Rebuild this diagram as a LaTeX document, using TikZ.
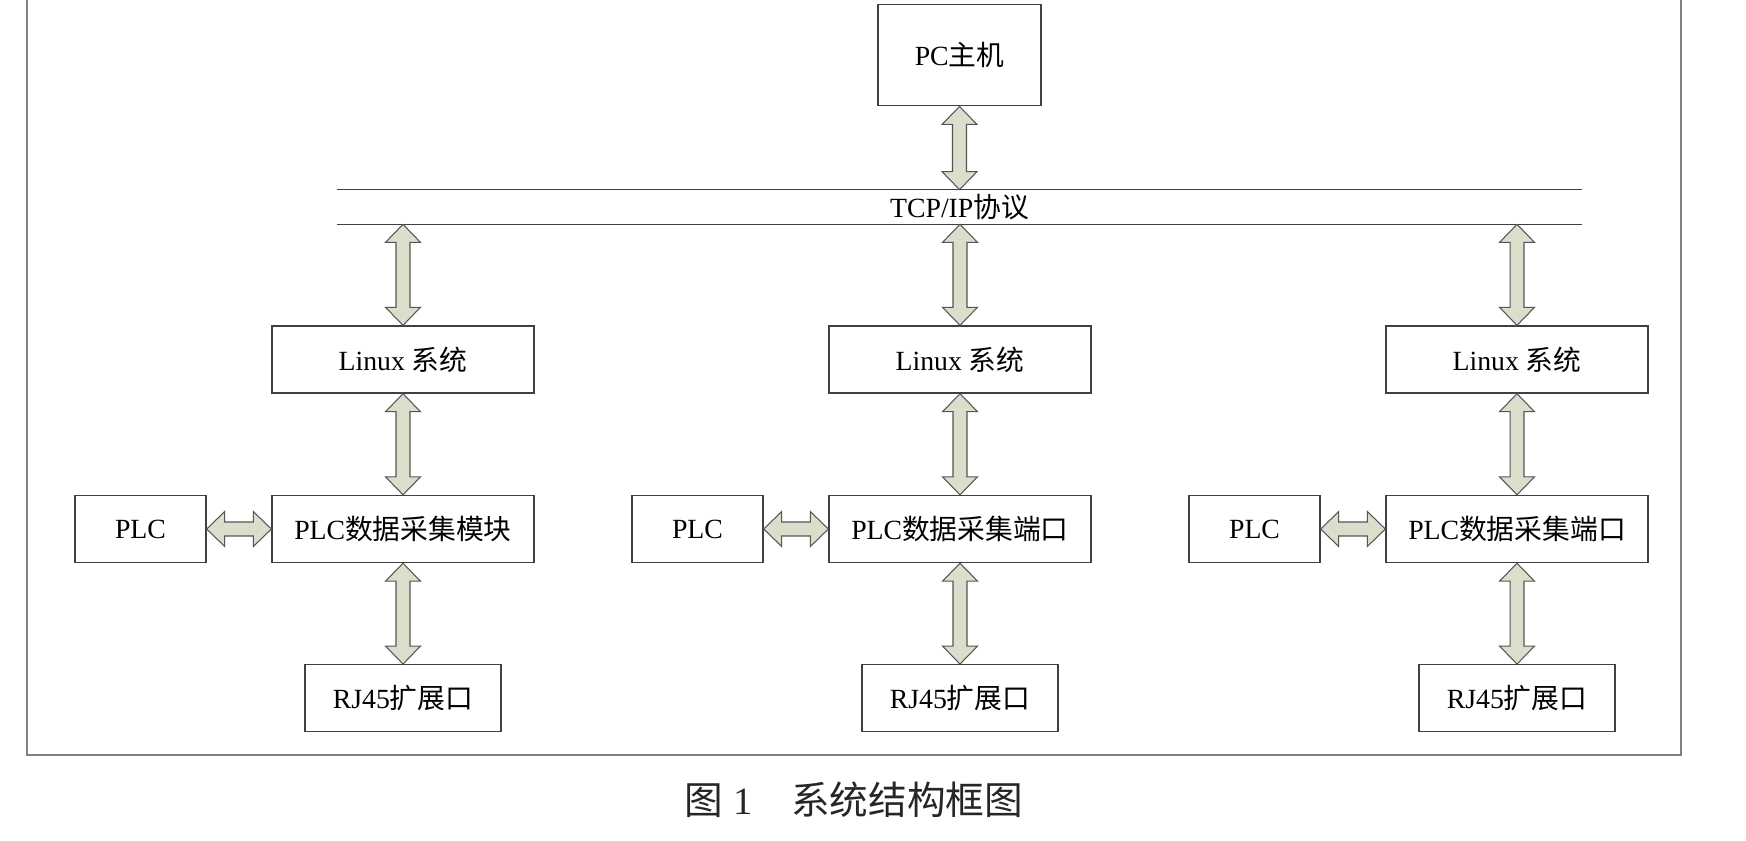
\documentclass[tikz,border=0pt]{standalone}
\usepackage{fontspec}
\setmainfont{Liberation Serif}
\newfontfamily\cjk{Noto Sans CJK SC}
\usepackage{tikz}
\usetikzlibrary{calc}
\definecolor{arrfill}{RGB}{221,221,204}
\definecolor{arrline}{RGB}{85,85,85}
\definecolor{boxline}{RGB}{64,64,64}
\definecolor{frameline}{RGB}{128,128,128}

\begin{document}
\begin{tikzpicture}[x=0.02cm,y=-0.02cm,
box/.style={draw=boxline,line width=0.8pt,minimum height=1.34cm,inner sep=0pt,font=\fontsize{15.8}{19}\selectfont},
fat/.style={draw=arrline,fill=arrfill,line width=0.6pt,line join=miter,to path={(\tikztostart)
 -- ($(\tikztostart)!0.36cm!(\tikztotarget)!0.35cm!90:(\tikztotarget)$)
 -- ($(\tikztostart)!0.36cm!(\tikztotarget)!0.14cm!90:(\tikztotarget)$)
 -- ($(\tikztotarget)!0.36cm!(\tikztostart)!0.14cm!-90:(\tikztostart)$)
 -- ($(\tikztotarget)!0.36cm!(\tikztostart)!0.35cm!-90:(\tikztostart)$)
 -- (\tikztotarget)
 -- ($(\tikztotarget)!0.36cm!(\tikztostart)!0.35cm!90:(\tikztostart)$)
 -- ($(\tikztotarget)!0.36cm!(\tikztostart)!0.14cm!90:(\tikztostart)$)
 -- ($(\tikztostart)!0.36cm!(\tikztotarget)!0.14cm!-90:(\tikztotarget)$)
 -- ($(\tikztostart)!0.36cm!(\tikztotarget)!0.35cm!-90:(\tikztotarget)$)
 -- cycle}}]
\useasboundingbox (0,0) rectangle (1746,840);
% outer frame
\draw[frameline,line width=1.1pt](27,0)--(27,755)--(1681,755)--(1681,0);
% host and bus
\node[box,minimum width=3.26cm,minimum height=2.03cm](pc) at (959.5,55){PC{\cjk 主机}};
\node[font=\fontsize{15.8}{19}\selectfont,minimum width=24.9cm,minimum height=0.68cm,inner sep=0pt](tcp) at (959.5,207){TCP/IP{\cjk 协议}};
\draw[boxline,line width=0.8pt](tcp.north west)--(tcp.north east)
(tcp.south west)--(tcp.south east);
\draw[fat](pc.south) to (tcp.north);
% three branches
\foreach \i/\x/\t in {1/403/模块,2/960/端口,3/1517/端口}{
\node[box,minimum width=5.24cm](lin\i) at (\x,359.5){Linux {\cjk 系统}};
\node[box,minimum width=5.24cm](dat\i) at (\x,529){PLC{\cjk 数据采集\t}};
\node[box,minimum width=2.62cm](plc\i) at (\x-262.5,529){PLC};
\node[box,minimum width=3.92cm,minimum height=1.33cm](rj\i) at (\x,698){RJ45{\cjk 扩展口}};
\coordinate (bus\i) at (tcp.south -| lin\i.north);
\draw[fat](bus\i) to (lin\i.north);
\draw[fat](lin\i.south) to (dat\i.north);
\draw[fat](plc\i.east) to (dat\i.west);
\draw[fat](dat\i.south) to (rj\i.north);
}
% caption
\node[font=\fontsize{22}{26}\selectfont,text=black!85](cap) at (854,800){{\cjk 图} 1{\cjk 　系统结构框图}};
\end{tikzpicture}
\end{document}
